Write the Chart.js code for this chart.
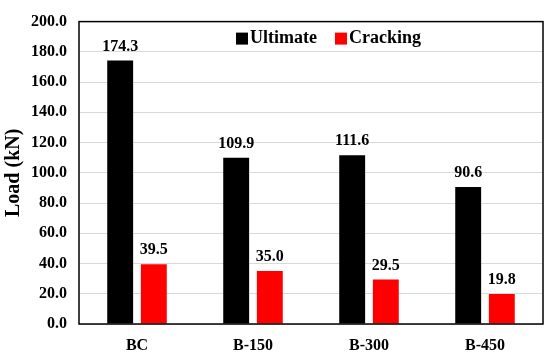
<!DOCTYPE html>
<html lang="en">
<head>
    <meta charset="UTF-8">
    <title>Load Chart</title>
    <script src="https://cdn.jsdelivr.net/npm/chart.js"></script>
    <style>
        html, body { margin: 0; padding: 0; background: #fff; }
        #wrap { width: 550px; height: 359px; }
    </style>
</head>
<body>
    <div id="wrap"><canvas id="loadChart"></canvas></div>

    <script>
        const categories = ['BC', 'B-150', 'B-300', 'B-450'];
        const ultimate = [174.3, 109.9, 111.6, 90.6];
        const cracking = [39.5, 35.0, 29.5, 19.8];
        const yTicks = { min: 0, max: 200, step: 20 };

        const serif = '"Liberation Serif", "Times New Roman", serif';

        // value labels above bars
        const valueLabels = {
            id: 'valueLabels',
            afterDatasetsDraw(chart) {
                const ctx = chart.ctx;
                ctx.save();
                ctx.font = 'bold 16px ' + serif;
                ctx.fillStyle = '#000';
                ctx.textAlign = 'center';
                ctx.textBaseline = 'bottom';
                chart.data.datasets.forEach((ds, i) => {
                    chart.getDatasetMeta(i).data.forEach((bar, j) => {
                        ctx.fillText(ds.data[j].toFixed(1), bar.x, bar.y - 6);
                    });
                });
                ctx.restore();
            }
        };

        // legend inside the plot + box round the plot
        const innerLegend = {
            id: 'innerLegend',
            afterDraw(chart) {
                const ctx = chart.ctx;
                const a = chart.chartArea;
                ctx.save();
                ctx.strokeStyle = '#000';
                ctx.lineWidth = 1.5;
                ctx.strokeRect(a.left, a.top, a.right - a.left, a.bottom - a.top);

                ctx.font = 'bold 18px ' + serif;
                ctx.textBaseline = 'middle';
                let x = a.left + 157;
                const y = a.top + 17;
                chart.data.datasets.forEach(ds => {
                    ctx.fillStyle = ds.backgroundColor;
                    ctx.fillRect(x, y - 6, 12, 12);
                    ctx.fillStyle = '#000';
                    ctx.fillText(ds.label, x + 14, y);
                    x += 14 + ctx.measureText(ds.label).width + 18;
                });
                ctx.restore();
            }
        };

        new Chart(document.getElementById('loadChart'), {
            type: 'bar',
            data: {
                labels: categories,
                datasets: [
                    { label: 'Ultimate', data: ultimate, backgroundColor: '#000000' },
                    { label: 'Cracking', data: cracking, backgroundColor: '#ff0000' }
                ]
            },
            options: {
                responsive: true,
                maintainAspectRatio: false,
                animation: false,
                layout: { padding: { top: 14, right: 7, left: 2, bottom: 0 } },
                datasets: {
                    bar: { categoryPercentage: 0.58, barPercentage: 0.77 }
                },
                plugins: {
                    legend: { display: false },
                    tooltip: { enabled: false }
                },
                scales: {
                    x: {
                        grid: { display: false },
                        border: { display: false },
                        ticks: { color: '#000', font: { family: serif, size: 16, weight: 'bold' }, padding: 4 },
                        afterFit(scale) { scale.height = 35; }
                    },
                    y: {
                        min: yTicks.min,
                        max: yTicks.max,
                        grid: { color: '#d9d9d9', lineWidth: 1, drawTicks: false },
                        border: { display: false },
                        ticks: {
                            stepSize: yTicks.step,
                            color: '#000',
                            padding: 12,
                            font: { family: serif, size: 16, weight: 'bold' },
                            callback: v => v.toFixed(1)
                        },
                        title: {
                            display: true,
                            text: 'Load (kN)',
                            color: '#000',
                            font: { family: serif, size: 20, weight: 'bold' },
                            padding: { top: 0, bottom: 2 }
                        },
                        afterFit(scale) { scale.width = 77; }
                    }
                }
            },
            plugins: [valueLabels, innerLegend]
        });
    </script>
</body>
</html>
